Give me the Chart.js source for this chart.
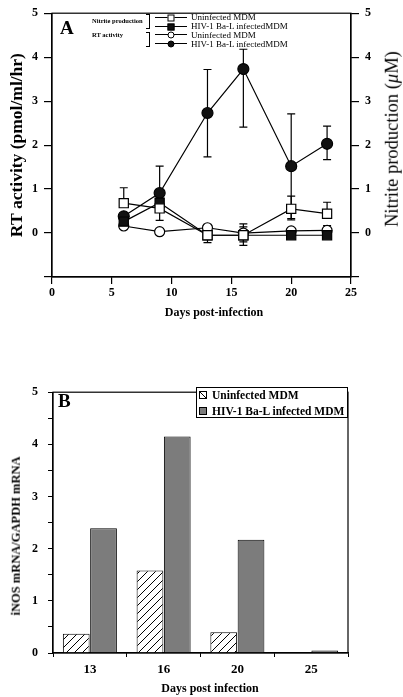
<!DOCTYPE html>
<html><head><meta charset="utf-8">
<script src="https://cdn.jsdelivr.net/npm/chart.js@4.4.1/dist/chart.umd.min.js"></script>
<style>
html,body{margin:0;padding:0;background:#fff;}
body{width:403px;height:697px;position:relative;overflow:hidden;font-family:'Liberation Serif','Times New Roman',serif;color:#000;}
canvas{position:absolute;left:0;}
#ca{top:0;}
#cb{top:375px;}
.t{position:absolute;white-space:nowrap;line-height:1;transform:translateY(-50%);}
.c{position:absolute;white-space:nowrap;line-height:1;transform:translate(-50%,-50%);font-weight:bold;}
.ln{position:absolute;height:1px;background:#000;width:32px;left:155px;}
.mk{position:absolute;box-sizing:border-box;border:1px solid #000;transform:translate(-50%,-50%);}
.br{position:absolute;width:3px;border:1px solid #000;border-left:none;left:146px;}
.bx{position:absolute;width:8px;height:8px;box-sizing:border-box;border:1px solid #000;}
</style></head>
<body>
<canvas id="ca" width="403" height="320"></canvas>
<canvas id="cb" width="403" height="322"></canvas>

<!-- Panel A overlay texts -->
<div class="t" style="left:60px;top:27px;font-size:19px;font-weight:bold;">A</div>
<div class="t" style="left:92px;top:21px;font-size:6.5px;font-weight:bold;">Nitrite production</div>
<div class="t" style="left:92px;top:35px;font-size:6.5px;font-weight:bold;">RT activity</div>
<div class="br" style="top:14px;height:13px;"></div>
<div class="br" style="top:32px;height:13px;"></div>
<div class="ln" style="top:17px;"></div><div class="mk" style="left:171px;top:17.5px;width:7px;height:7px;background:#fff;"></div>
<div class="ln" style="top:26px;"></div><div class="mk" style="left:171px;top:26.5px;width:7px;height:7px;background:#111;"></div>
<div class="ln" style="top:34px;"></div><div class="mk" style="left:171px;top:34.5px;width:7px;height:7px;background:#fff;border-radius:50%;"></div>
<div class="ln" style="top:43px;"></div><div class="mk" style="left:171px;top:43.5px;width:7px;height:7px;background:#111;border-radius:50%;"></div>
<div class="t" style="left:191px;top:17px;font-size:9px;">Uninfected MDM</div>
<div class="t" style="left:191px;top:26px;font-size:9px;">HIV-1 Ba-L infectedMDM</div>
<div class="t" style="left:191px;top:34.5px;font-size:9px;">Uninfected MDM</div>
<div class="t" style="left:191px;top:43.5px;font-size:9px;">HIV-1 Ba-L infectedMDM</div>
<div class="t" style="left:392px;top:139px;font-size:18.5px;transform:translate(-50%,-50%) rotate(-90deg);">Nitrite production (<i>μ</i>M)</div>
<div class="c" style="left:214px;top:312px;font-size:12px;">Days post-infection</div>

<!-- Panel B overlay texts -->
<div class="t" style="left:58px;top:400px;font-size:19px;font-weight:bold;">B</div>
<div style="position:absolute;left:196px;top:387px;width:152px;height:31px;box-sizing:border-box;border:1px solid #000;background:#fff;"></div>
<div class="bx" style="left:199px;top:391px;background:linear-gradient(to top right,#fff 45%,#000 45%,#000 58%,#fff 58%);"></div>
<div class="bx" style="left:199px;top:407px;background:#7c7c7c;"></div>
<div class="t" style="left:212px;top:396px;font-size:11.5px;font-weight:bold;">Uninfected MDM</div>
<div class="t" style="left:212px;top:412px;font-size:11.5px;font-weight:bold;">HIV-1 Ba-L infected MDM</div>
<div class="c" style="left:210px;top:688px;font-size:12px;">Days post infection</div>
<div class="c" style="left:16px;top:536px;font-size:12.5px;transform:translate(-50%,-50%) rotate(-90deg);">iNOS mRNA/GAPDH mRNA</div>

<script>
// ---------- Panel A data ----------
const days = [6, 9, 13, 16, 20, 23];
const nitriteUninfected   = [0.68, 0.56, -0.05, -0.05, 0.55, 0.44];
const nitriteUninfectedHi = [1.03, null, null, 0.21, 0.84, 0.70];
const nitriteUninfectedLo = [null, 0.29, -0.22, -0.28, 0.30, null];
const nitriteInfected     = [0.26, 0.69, -0.05, -0.05, -0.05, -0.05];
const nitriteInfectedHi   = [null, 0.83, null, 0.14, null, null];
const nitriteInfectedLo   = [null, null, null, -0.20, null, null];
const rtUninfected        = [0.16, 0.03, 0.12, 0.00, 0.05, 0.06];
const rtUninfectedHi      = [null, null, null, null, null, 0.17];
const rtUninfectedLo      = [null, null, null, null, null, null];
const rtInfected          = [0.38, 0.91, 2.73, 3.73, 1.52, 2.03];
const rtInfectedHi        = [null, 1.52, 3.72, 4.18, 2.71, 2.43];
const rtInfectedLo        = [null, null, 1.73, 2.41, 0.33, 1.67];
const xTicksA = [0, 5, 10, 15, 20, 25];
const yTicksA = [0, 1, 2, 3, 4, 5];

// ---------- Panel B data ----------
const daysB = ['13', '16', '20', '25'];
const inosUninfected = [0.37, 1.58, 0.40, null];
const inosInfected   = [2.39, 4.15, 2.17, 0.05];
const yTicksB = [0, 1, 2, 3, 4, 5];

const SERIF = "'Liberation Serif','Times New Roman',serif";
Chart.defaults.font.family = SERIF;
Chart.defaults.color = '#000';
Chart.defaults.animation = false;

const pts = (ys) => days.map((d, i) => ({x: d, y: ys[i]}));

const frame = {
  id: 'frame',
  afterDraw(chart) {
    const {ctx, chartArea: a} = chart;
    ctx.save();
    ctx.strokeStyle = '#000';
    ctx.lineWidth = 1.2;
    ctx.strokeRect(a.left, a.top, a.right - a.left, a.bottom - a.top);
    ctx.restore();
  }
};

const errorBars = {
  id: 'errorBars',
  beforeDatasetsDraw(chart) {
    const {ctx} = chart;
    const ys = chart.scales.y;
    ctx.save();
    ctx.strokeStyle = '#000';
    ctx.lineWidth = 1.2;
    chart.data.datasets.forEach((ds, di) => {
      const meta = chart.getDatasetMeta(di);
      meta.data.forEach((p, i) => {
        [ds.errHi, ds.errLo].forEach(arr => {
          if (!arr || arr[i] == null) return;
          const y2 = ys.getPixelForValue(arr[i]);
          ctx.beginPath();
          ctx.moveTo(p.x, p.y);
          ctx.lineTo(p.x, y2);
          ctx.moveTo(p.x - 4, y2);
          ctx.lineTo(p.x + 4, y2);
          ctx.stroke();
        });
      });
    });
    ctx.restore();
  }
};

function lineDs(label, data, hi, lo, style, fill, r) {
  return {
    label, data: pts(data), errHi: hi, errLo: lo,
    borderColor: '#000', borderWidth: 1.2, showLine: true,
    pointStyle: style, pointRadius: r, pointHoverRadius: r,
    pointBackgroundColor: fill, pointBorderColor: '#000', pointBorderWidth: 1.2,
    tension: 0
  };
}

const axisA = (pos) => ({
  type: 'linear', position: pos, min: -1, max: 5,
  afterBuildTicks: s => { s.ticks = [-1].concat(yTicksA).map(v => ({value: v})); },
  afterFit: s => { s.width = 52; },
  border: {display: true, color: '#000', width: 1.2},
  grid: {display: true, drawOnChartArea: false, drawTicks: true, tickLength: 8, color: '#000', lineWidth: 1.2},
  ticks: {font: {size: 12, weight: 'bold'}, padding: 6,
    callback: v => (v < 0 ? '' : String(v))}
});

const leftA = axisA('left');
leftA.title = {display: true, text: 'RT activity (pmol/ml/hr)', font: {size: 17.5, weight: 'bold'}, padding: {top: 7, bottom: 0}};
const rightA = axisA('right');

new Chart(document.getElementById('ca'), {
  type: 'scatter',
  data: {
    datasets: [
      lineDs('Nitrite Uninfected MDM', nitriteUninfected, nitriteUninfectedHi, nitriteUninfectedLo, 'rect', '#fff', 6.5),
      lineDs('Nitrite HIV-1 Ba-L infectedMDM', nitriteInfected, nitriteInfectedHi, nitriteInfectedLo, 'rect', '#111', 6.5),
      lineDs('RT HIV-1 Ba-L infectedMDM', rtInfected, rtInfectedHi, rtInfectedLo, 'circle', '#111', 5.5),
      lineDs('RT Uninfected MDM', rtUninfected, rtUninfectedHi, rtUninfectedLo, 'circle', '#fff', 5)
    ]
  },
  options: {
    responsive: false,
    layout: {padding: {top: 12, right: 0, bottom: 0, left: 0}},
    plugins: {legend: {display: false}, tooltip: {enabled: false}},
    scales: {
      x: {
        type: 'linear', min: 0, max: 25,
        afterBuildTicks: s => { s.ticks = xTicksA.map(v => ({value: v})); },
        afterFit: s => { s.height = 43; },
        border: {display: true, color: '#000', width: 1.2},
        grid: {display: true, drawOnChartArea: false, drawTicks: true, tickLength: 7, color: '#000', lineWidth: 1.2},
        ticks: {font: {size: 12, weight: 'bold'}, padding: 2, maxRotation: 0}
      },
      y: leftA,
      y2: rightA
    }
  },
  plugins: [errorBars, frame]
});

// ---------- Panel B ----------
function hatch() {
  const s = 8, c = document.createElement('canvas');
  c.width = s; c.height = s;
  const g = c.getContext('2d');
  g.fillStyle = '#fff'; g.fillRect(0, 0, s, s);
  g.strokeStyle = '#000'; g.lineWidth = 1;
  g.beginPath();
  g.moveTo(0, s); g.lineTo(s, 0);
  g.moveTo(-2, 2); g.lineTo(2, -2);
  g.moveTo(s - 2, s + 2); g.lineTo(s + 2, s - 2);
  g.stroke();
  return g.createPattern(c, 'repeat');
}

new Chart(document.getElementById('cb'), {
  type: 'bar',
  data: {
    labels: daysB,
    datasets: [
      {label: 'Uninfected MDM', data: inosUninfected, backgroundColor: hatch(), borderColor: '#000', borderWidth: 1, borderSkipped: 'bottom', categoryPercentage: 0.74, barPercentage: 0.98},
      {label: 'HIV-1 Ba-L infected MDM', data: inosInfected, backgroundColor: '#7c7c7c', borderColor: '#000', borderWidth: 1, borderSkipped: 'bottom', categoryPercentage: 0.74, barPercentage: 0.98}
    ]
  },
  options: {
    responsive: false,
    layout: {padding: {top: 8, right: 55, bottom: 0, left: 0}},
    plugins: {legend: {display: false}, tooltip: {enabled: false}},
    scales: {
      x: {
        afterFit: s => { s.height = 44; },
        border: {display: true, color: '#000', width: 1.2},
        grid: {display: true, offset: true, drawOnChartArea: false, drawTicks: true, tickLength: 4, color: '#000', lineWidth: 1},
        ticks: {font: {size: 13, weight: 'bold'}, padding: 5, maxRotation: 0}
      },
      y: {
        min: 0, max: 5,
        afterBuildTicks: s => {
          const t = [];
          yTicksB.forEach((v, i) => { t.push({value: v}); if (i < yTicksB.length - 1) t.push({value: v + 0.5}); });
          s.ticks = t;
        },
        afterFit: s => { s.width = 53; },
        border: {display: true, color: '#000', width: 1.2},
        grid: {display: true, drawOnChartArea: false, drawTicks: true, tickLength: 5, color: '#000', lineWidth: 1},
        ticks: {font: {size: 12, weight: 'bold'}, padding: 10,
          callback: v => (Number.isInteger(v) ? String(v) : '')}
      }
    }
  },
  plugins: [frame]
});
</script>
</body></html>
